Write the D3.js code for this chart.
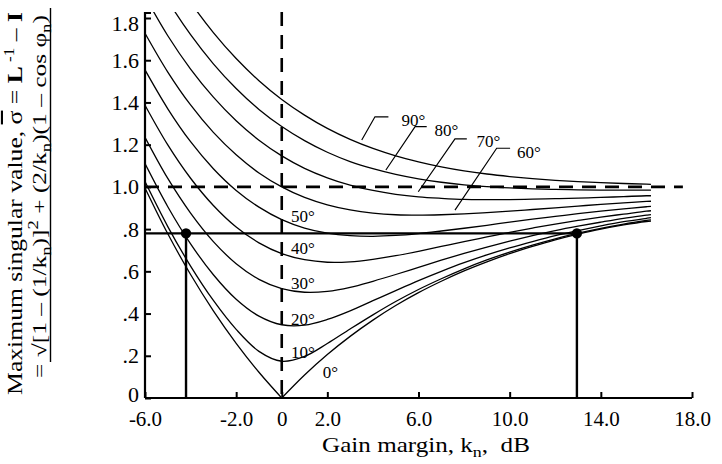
<!DOCTYPE html>
<html><head><meta charset="utf-8">
<script src="https://cdn.jsdelivr.net/npm/d3@7"></script>
<style>
html,body{margin:0;padding:0;background:#fff;}
svg{display:block;font-family:"Liberation Serif","Times New Roman",serif;}
</style></head><body>
<svg id="chart" width="722" height="464"></svg>
<script>
// ---------- data ----------
const gainDB = [-6,-5,-4,-3,-2,-1,0,1,2,3,4,5,6,7,8,9,10,11,12,13,14,15,16,16.2];
const phi0  = [0.995,0.778,0.585,0.413,0.259,0.122,0.000,0.109,0.206,0.292,0.369,0.438,0.499,0.553,0.602,0.645,0.684,0.718,0.749,0.776,0.800,0.820,0.836,0.838];
const phi10 = [1.025,0.812,0.625,0.462,0.325,0.221,0.174,0.197,0.258,0.327,0.394,0.457,0.514,0.565,0.612,0.654,0.691,0.724,0.754,0.781,0.804,0.824,0.841,0.844];
const phi20 = [1.110,0.906,0.730,0.584,0.468,0.388,0.347,0.345,0.372,0.413,0.461,0.509,0.556,0.600,0.641,0.678,0.711,0.741,0.769,0.793,0.815,0.835,0.851,0.854];
const phi30 = [1.235,1.040,0.876,0.741,0.636,0.562,0.518,0.501,0.505,0.524,0.553,0.585,0.619,0.653,0.685,0.715,0.743,0.769,0.793,0.814,0.833,0.851,0.866,0.869];
const phi40 = [1.387,1.199,1.041,0.912,0.810,0.735,0.684,0.655,0.643,0.645,0.657,0.674,0.695,0.718,0.741,0.763,0.785,0.805,0.824,0.841,0.857,0.871,0.885,0.887];
const phi50 = [1.554,1.370,1.214,1.086,0.983,0.904,0.845,0.805,0.781,0.769,0.766,0.770,0.779,0.791,0.804,0.818,0.833,0.847,0.860,0.873,0.885,0.896,0.906,0.908];
const phi60 = [1.728,1.544,1.388,1.258,1.152,1.066,1.000,0.950,0.915,0.891,0.876,0.868,0.866,0.868,0.872,0.878,0.885,0.893,0.901,0.909,0.917,0.924,0.931,0.932];
const phi70 = [1.902,1.716,1.558,1.425,1.313,1.221,1.147,1.088,1.043,1.008,0.983,0.965,0.953,0.946,0.941,0.940,0.940,0.942,0.944,0.947,0.950,0.954,0.958,0.958];
const phi80 = [2.071,1.883,1.721,1.583,1.466,1.367,1.286,1.219,1.164,1.120,1.086,1.059,1.038,1.022,1.010,1.001,0.995,0.991,0.988,0.986,0.985,0.985,0.985,0.985];
const phi90 = [2.232,2.040,1.874,1.731,1.608,1.503,1.414,1.340,1.277,1.225,1.182,1.147,1.119,1.095,1.076,1.061,1.049,1.039,1.031,1.025,1.020,1.016,1.013,1.012];

const seriesValues = [phi0,phi10,phi20,phi30,phi40,phi50,phi60,phi70,phi80,phi90];
const phaseLabels  = ["0°","10°","20°","30°","40°","50°","60°","70°","80°","90°"];

const xTickValues = [-6,-2,0,2,6,10,14,18];
const xTickLabels = ["-6.0","-2.0","0","2.0","6.0","10.0","14.0","18.0"];
const yTickValues = [0,0.2,0.4,0.6,0.8,1.0,1.2,1.4,1.6,1.8];
const yTickLabels = ["0",".2",".4",".6",".8","1.0","1.2","1.4","1.6","1.8"];

const sigmaRef   = 0.78;   // horizontal reading line
const marginLow  = -4.2;   // dB, left dot
const marginHigh = 12.95;  // dB, right dot
const unitSigma  = 1.0;    // dashed horizontal
const zeroDB     = 0;      // dashed vertical

// label anchors in data units [dB, sigma]
const inlineLabelPos = {"0°":[1.80,0.125],"10°":[0.41,0.219],"20°":[0.41,0.373],"30°":[0.41,0.543],"40°":[0.41,0.709],"50°":[0.41,0.862]};
const leaderLabels = [
  {label:"90°", text:[5.25,1.317], corner:[4.09,1.332], hEnd:[4.68,1.332], dEnd:[3.51,1.222]},
  {label:"80°", text:[6.70,1.269], corner:[5.85,1.285], hEnd:[6.36,1.285], dEnd:[4.57,1.080]},
  {label:"70°", text:[8.54,1.217], corner:[7.60,1.227], hEnd:[8.12,1.227], dEnd:[5.99,0.977]},
  {label:"60°", text:[10.32,1.167],corner:[9.43,1.183], hEnd:[10.02,1.183],dEnd:[7.60,0.890]}
];

// ---------- drawing ----------
const FONT = "'Liberation Serif','Times New Roman',serif";
const svg = d3.select("#chart");
const x = d3.scaleLinear().domain([-6,18]).range([145,692]);
const y = d3.scaleLinear().domain([0,1.8]).range([398,18]);
const plotTop = 12;

svg.append("defs").append("clipPath").attr("id","plotclip")
  .append("rect").attr("x",x(-6)).attr("y",plotTop).attr("width",x(18)-x(-6)).attr("height",y(0)-plotTop+1);

// curves
const line = d3.line().x(d=>x(d[0])).y(d=>y(d[1])).curve(d3.curveCatmullRom.alpha(0.5));
const gCurves = svg.append("g").attr("clip-path","url(#plotclip)")
  .attr("fill","none").attr("stroke","#000").attr("stroke-width",1.3);
seriesValues.forEach(vals=>{
  const pts = gainDB.map((d,i)=>[d,vals[i]]);
  const cusp = vals.indexOf(0);
  const segs = cusp>0 ? [pts.slice(0,cusp+1), pts.slice(cusp)] : [pts];
  segs.forEach(s=>gCurves.append("path").attr("d",line(s)));
});

// dashed reference lines
svg.append("line").attr("x1",x(zeroDB)).attr("x2",x(zeroDB)).attr("y1",plotTop).attr("y2",y(0))
  .attr("stroke","#000").attr("stroke-width",2.6).attr("stroke-dasharray","14,9");
svg.append("line").attr("x1",x(-6)).attr("x2",x(17.6)).attr("y1",y(unitSigma)).attr("y2",y(unitSigma))
  .attr("stroke","#000").attr("stroke-width",2.6).attr("stroke-dasharray","14,9");

// reading line + verticals + dots
svg.append("line").attr("x1",x(-6)).attr("x2",x(marginHigh)).attr("y1",y(sigmaRef)).attr("y2",y(sigmaRef))
  .attr("stroke","#000").attr("stroke-width",2.4);
[marginLow,marginHigh].forEach(m=>{
  svg.append("line").attr("x1",x(m)).attr("x2",x(m)).attr("y1",y(sigmaRef)).attr("y2",y(0))
    .attr("stroke","#000").attr("stroke-width",2.4);
  svg.append("circle").attr("cx",x(m)).attr("cy",y(sigmaRef)).attr("r",5.2).attr("fill","#000");
});

// axes
const xAxis = d3.axisBottom(x).tickValues(xTickValues).tickFormat((d,i)=>xTickLabels[i])
  .tickSizeInner(-6).tickSizeOuter(0).tickPadding(13);
const gx = svg.append("g").attr("transform",`translate(0,${y(0)})`).call(xAxis);
gx.attr("font-family",FONT);
gx.select(".domain").remove();
gx.selectAll(".tick line").attr("stroke-width",2);
gx.selectAll(".tick text").attr("font-family",FONT).attr("font-size",21).attr("fill","#000");
svg.append("line").attr("x1",x(-6)).attr("x2",x(18)).attr("y1",y(0)).attr("y2",y(0)).attr("stroke","#000").attr("stroke-width",2.2);

const yAxis = d3.axisLeft(y).tickValues(yTickValues).tickFormat((d,i)=>yTickLabels[i])
  .tickSizeInner(-6).tickSizeOuter(0).tickPadding(6);
const gy = svg.append("g").attr("transform",`translate(${x(-6)},0)`).call(yAxis);
gy.attr("font-family",FONT);
gy.select(".domain").remove();
gy.selectAll(".tick line").attr("stroke-width",2);
gy.selectAll(".tick text").attr("font-family",FONT).attr("font-size",22).attr("fill","#000");
gy.selectAll(".tick text").filter(d=>d===1.8).attr("dy","0.55em");
gy.selectAll(".tick text").filter(d=>d===0).attr("dy","0.14em");
svg.append("line").attr("x1",x(-6)).attr("x2",x(-6)).attr("y1",plotTop).attr("y2",y(0)).attr("stroke","#000").attr("stroke-width",2.2);
svg.append("line").attr("x1",x(-6)).attr("x2",x(-6)+6).attr("y1",plotTop+1).attr("y2",plotTop+1).attr("stroke","#000").attr("stroke-width",2);

// inline phase labels
Object.entries(inlineLabelPos).forEach(([lab,p])=>{
  svg.append("text").attr("x",x(p[0])).attr("y",y(p[1])).attr("dy","0.35em")
    .attr("font-size",17).text(lab);
});
// leader labels
leaderLabels.forEach(l=>{
  svg.append("path").attr("fill","none").attr("stroke","#000").attr("stroke-width",1.2)
    .attr("d",`M${x(l.hEnd[0])},${y(l.hEnd[1])}L${x(l.corner[0])},${y(l.corner[1])}L${x(l.dEnd[0])},${y(l.dEnd[1])}`);
  svg.append("text").attr("x",x(l.text[0])).attr("y",y(l.text[1])).attr("dy","0.35em")
    .attr("font-size",17).text(l.label);
});

// helper to stretch a text element to a target length
function fitText(sel, cx, cy, rot, target){
  const w = sel.node().getBBox().width;
  const s = w>0 ? target / w : 1;
  sel.attr("transform",`translate(${cx},${cy}) rotate(${rot}) scale(${s},1)`);
}

// x title
const xt = svg.append("text").attr("text-anchor","middle").attr("font-size",21).style("white-space","pre");
xt.append("tspan").text("Gain margin, k");
xt.append("tspan").attr("font-size",15).attr("dy",5).text("n");
xt.append("tspan").attr("dy",-5).text(",  dB");
fitText(xt, 426, 452, 0, 208);

// y title line 1
const yt1 = svg.append("text").attr("text-anchor","middle").attr("font-size",21).style("white-space","pre");
yt1.append("tspan").text("Maximum singular value, ");
yt1.append("tspan").style("text-decoration","overline").text("σ");
yt1.append("tspan").text(" = ");
yt1.append("tspan").attr("font-weight","bold").text("L");
yt1.append("tspan").attr("font-size",14).attr("dy",-8).text(" -1");
yt1.append("tspan").attr("dy",8).text(" \u2013 ");
yt1.append("tspan").attr("font-weight","bold").text("I");
fitText(yt1, 21.5, 203.5, -90, 383);

// y title line 2
const yt2 = svg.append("text").attr("text-anchor","middle").attr("font-size",19).style("white-space","pre");
yt2.append("tspan").text("= \u221A[1 \u2013 (1/k");
yt2.append("tspan").attr("font-size",14).attr("dy",5).text("n");
yt2.append("tspan").attr("dy",-5).text(")]");
yt2.append("tspan").attr("font-size",14).attr("dy",-8).text("2");
yt2.append("tspan").attr("dy",8).text(" + (2/k");
yt2.append("tspan").attr("font-size",14).attr("dy",5).text("n");
yt2.append("tspan").attr("dy",-5).text(")(1 \u2013 cos \u03C6");
yt2.append("tspan").attr("font-size",14).attr("dy",5).text("n");
yt2.append("tspan").attr("dy",-5).text(")");
fitText(yt2, 46, 196.5, -90, 363);
// radical bar as in the reference
svg.append("line").attr("x1",50.5).attr("x2",50.5).attr("y1",8).attr("y2",362).attr("stroke","#000").attr("stroke-width",1.4);
</script>
</body></html>
